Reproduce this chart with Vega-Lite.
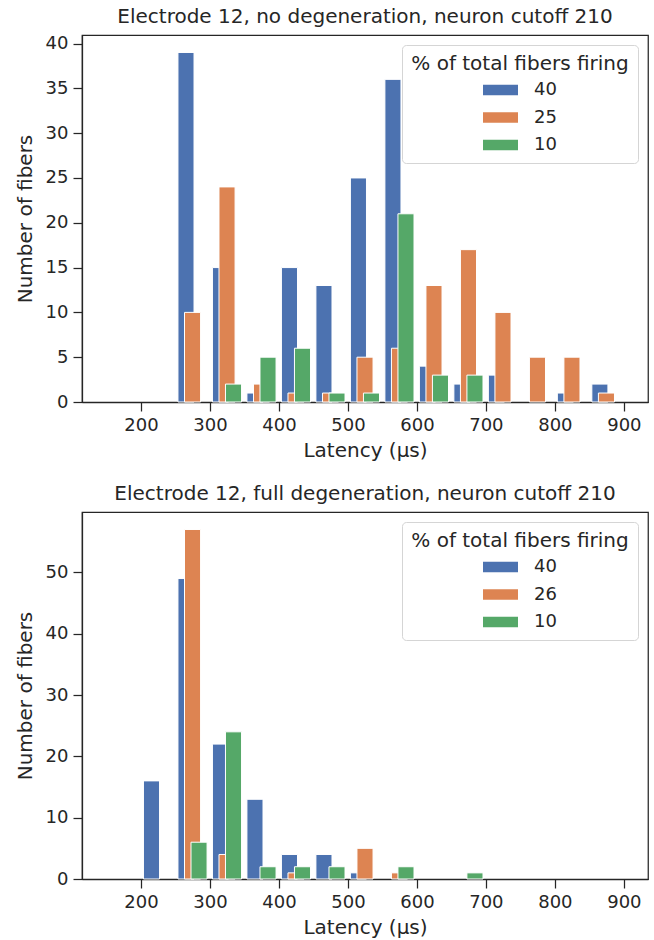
{
  "$schema": "https://vega.github.io/schema/vega-lite/v6.json",
  "padding": {"left": 14, "top": 5, "right": 5, "bottom": 5},
  "spacing": 110,
  "bounds": "flush",
  "datasets": {
    "nodegen": [
      {"bin": 250, "pct": "40", "count": 39},
      {"bin": 300, "pct": "40", "count": 15},
      {"bin": 350, "pct": "40", "count": 1},
      {"bin": 400, "pct": "40", "count": 15},
      {"bin": 450, "pct": "40", "count": 13},
      {"bin": 500, "pct": "40", "count": 25},
      {"bin": 550, "pct": "40", "count": 36},
      {"bin": 600, "pct": "40", "count": 4},
      {"bin": 650, "pct": "40", "count": 2},
      {"bin": 700, "pct": "40", "count": 3},
      {"bin": 800, "pct": "40", "count": 1},
      {"bin": 850, "pct": "40", "count": 2},
      {"bin": 250, "pct": "25", "count": 10},
      {"bin": 300, "pct": "25", "count": 24},
      {"bin": 350, "pct": "25", "count": 2},
      {"bin": 400, "pct": "25", "count": 1},
      {"bin": 450, "pct": "25", "count": 1},
      {"bin": 500, "pct": "25", "count": 5},
      {"bin": 550, "pct": "25", "count": 6},
      {"bin": 600, "pct": "25", "count": 13},
      {"bin": 650, "pct": "25", "count": 17},
      {"bin": 700, "pct": "25", "count": 10},
      {"bin": 750, "pct": "25", "count": 5},
      {"bin": 800, "pct": "25", "count": 5},
      {"bin": 850, "pct": "25", "count": 1},
      {"bin": 300, "pct": "10", "count": 2},
      {"bin": 350, "pct": "10", "count": 5},
      {"bin": 400, "pct": "10", "count": 6},
      {"bin": 450, "pct": "10", "count": 1},
      {"bin": 500, "pct": "10", "count": 1},
      {"bin": 550, "pct": "10", "count": 21},
      {"bin": 600, "pct": "10", "count": 3},
      {"bin": 650, "pct": "10", "count": 3}
    ],
    "fulldegen": [
      {"bin": 200, "pct": "40", "count": 16},
      {"bin": 250, "pct": "40", "count": 49},
      {"bin": 300, "pct": "40", "count": 22},
      {"bin": 350, "pct": "40", "count": 13},
      {"bin": 400, "pct": "40", "count": 4},
      {"bin": 450, "pct": "40", "count": 4},
      {"bin": 500, "pct": "40", "count": 1},
      {"bin": 250, "pct": "26", "count": 57},
      {"bin": 300, "pct": "26", "count": 4},
      {"bin": 400, "pct": "26", "count": 1},
      {"bin": 500, "pct": "26", "count": 5},
      {"bin": 550, "pct": "26", "count": 1},
      {"bin": 250, "pct": "10", "count": 6},
      {"bin": 300, "pct": "10", "count": 24},
      {"bin": 350, "pct": "10", "count": 2},
      {"bin": 400, "pct": "10", "count": 2},
      {"bin": 450, "pct": "10", "count": 2},
      {"bin": 550, "pct": "10", "count": 2},
      {"bin": 650, "pct": "10", "count": 1}
    ]
  },
  "vconcat": [
    {
      "width": 566,
      "height": 367,
      "title": "Electrode 12, no degeneration, neuron cutoff 210",
      "data": {"name": "nodegen"},
      "transform": [
        {"calculate": "datum.bin + (datum.pct == '40' ? 3.6 : datum.pct == '10' ? 22.5 : 13.1)", "as": "x0"},
        {"calculate": "datum.x0 + 23.3", "as": "x1"}
      ],
      "mark": {"type": "bar", "stroke": "white", "strokeWidth": 1},
      "encoding": {
        "x": {"field": "x0", "type": "quantitative", "scale": {"domain": [114.5, 935], "nice": false, "zero": false},
              "axis": {"values": [200, 300, 400, 500, 600, 700, 800, 900], "title": "Latency (µs)"}},
        "x2": {"field": "x1"},
        "y": {"field": "count", "type": "quantitative", "stack": null, "scale": {"domain": [0, 40.95], "nice": false},
              "axis": {"values": [0, 5, 10, 15, 20, 25, 30, 35, 40], "title": "Number of fibers", "titlePadding": 10}},
        "y2": {"datum": 0},
        "color": {"field": "pct", "type": "nominal",
                  "scale": {"domain": ["40", "25", "10"], "range": ["#4C72B0", "#DD8452", "#55A868"]},
                  "legend": {"title": "% of total fibers firing"}}
      }
    },
    {
      "width": 566,
      "height": 367,
      "title": "Electrode 12, full degeneration, neuron cutoff 210",
      "data": {"name": "fulldegen"},
      "transform": [
        {"calculate": "datum.bin + (datum.pct == '40' ? 3.6 : datum.pct == '10' ? 22.5 : 13.1)", "as": "x0"},
        {"calculate": "datum.x0 + 23.3", "as": "x1"}
      ],
      "mark": {"type": "bar", "stroke": "white", "strokeWidth": 1},
      "encoding": {
        "x": {"field": "x0", "type": "quantitative", "scale": {"domain": [114.5, 935], "nice": false, "zero": false},
              "axis": {"values": [200, 300, 400, 500, 600, 700, 800, 900], "title": "Latency (µs)"}},
        "x2": {"field": "x1"},
        "y": {"field": "count", "type": "quantitative", "stack": null, "scale": {"domain": [0, 59.85], "nice": false},
              "axis": {"values": [0, 10, 20, 30, 40, 50], "title": "Number of fibers", "titlePadding": 10}},
        "y2": {"datum": 0},
        "color": {"field": "pct", "type": "nominal",
                  "scale": {"domain": ["40", "26", "10"], "range": ["#4C72B0", "#DD8452", "#55A868"]},
                  "legend": {"title": "% of total fibers firing"}}
      }
    }
  ],
  "resolve": {"scale": {"color": "independent"}, "legend": {"color": "independent"}},
  "config": {
    "font": "DejaVu Sans",
    "background": "white",
    "view": {"stroke": "#262626", "strokeWidth": 1.25},
    "axis": {
      "labelFont": "DejaVu Sans", "labelFontSize": 18, "labelColor": "#262626",
      "titleFont": "DejaVu Sans", "titleFontSize": 20, "titleFontWeight": "normal", "titleColor": "#262626",
      "tickColor": "#262626", "tickSize": 9, "tickWidth": 1.25,
      "domainColor": "#262626", "domainWidth": 1.25,
      "grid": false, "labelPadding": 5, "titlePadding": 6
    },
    "title": {"font": "DejaVu Sans", "fontSize": 20, "fontWeight": "normal", "color": "#262626", "offset": 8},
    "legend": {
      "orient": "top-right", "offset": 10, "padding": 9,
      "fillColor": "white", "strokeColor": "#d5d5d5", "cornerRadius": 4,
      "titleFont": "DejaVu Sans", "titleFontSize": 20, "titleFontWeight": "normal", "titleColor": "#262626",
      "titleAnchor": "middle", "titlePadding": 7, "titleLimit": 500,
      "labelFont": "DejaVu Sans", "labelFontSize": 18, "labelColor": "#262626",
      "symbolType": "M-1,-0.3L1,-0.3L1,0.3L-1,0.3Z", "symbolSize": 1225, "symbolStrokeWidth": 0,
      "symbolOpacity": 1, "symbolOffset": 0, "labelOffset": 16, "rowPadding": 9.5, "clipHeight": 18
    }
  }
}
